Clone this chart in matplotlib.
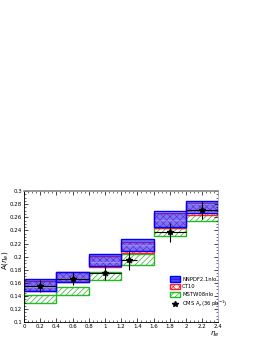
import matplotlib
matplotlib.use("Agg")
import matplotlib.pyplot as plt
from matplotlib.patches import Patch
from matplotlib.lines import Line2D
import numpy as np

# eta bins
bin_lo = [0.0, 0.4, 0.8, 1.2, 1.6, 2.0]
bin_w = 0.4

# theory bands (low, high)
nnpdf_lo = [0.148, 0.162, 0.186, 0.208, 0.246, 0.266]
nnpdf_hi = [0.166, 0.177, 0.204, 0.227, 0.270, 0.285]
ct10_lo = [0.147, 0.161, 0.185, 0.205, 0.243, 0.264]
ct10_hi = [0.163, 0.176, 0.201, 0.223, 0.266, 0.282]
mstw_lo = [0.129, 0.141, 0.165, 0.188, 0.231, 0.254]
mstw_hi = [0.141, 0.154, 0.176, 0.204, 0.244, 0.265]

# CMS measurement
cms_x = [0.2, 0.6, 1.0, 1.3, 1.8, 2.2]
cms_xerr = [0.2, 0.2, 0.2, 0.1, 0.2, 0.2]
cms_y = [0.155, 0.1665, 0.1756, 0.1944, 0.237, 0.271]
cms_yerr = [0.0095, 0.0095, 0.011, 0.014, 0.015, 0.014]

fig = plt.figure(figsize=(2.62, 3.39), dpi=100)
ax = fig.add_axes([0.0916, 0.0493, 0.742, 0.387])


def band(lo, hi, face, hatch, hcol, ecol, lw):
    lo = np.array(lo)
    hi = np.array(hi)
    ax.bar(bin_lo, hi - lo, width=bin_w, bottom=lo, align='edge',
           facecolor=face, hatch=hatch, edgecolor=hcol, linewidth=0)
    ax.bar(bin_lo, hi - lo, width=bin_w, bottom=lo, align='edge',
           fill=False, edgecolor=ecol, linewidth=lw)


plt.rcParams['hatch.linewidth'] = 0.5
band(mstw_lo, mstw_hi, 'white', '//////', '#33aa33', '#22bb22', 1.0)
band(ct10_lo, ct10_hi, 'white', 'xxxxx', '#ff4444', '#ff2222', 1.0)
band(nnpdf_lo, nnpdf_hi, (0.1, 0.1, 1.0, 0.6), '--', (0.75, 0.75, 1.0, 0.7),
     '#0000ff', 1.0)

ax.errorbar(cms_x, cms_y, xerr=cms_xerr, yerr=cms_yerr, fmt='*',
            color='black', markersize=4, elinewidth=0.8, capsize=0)

ax.set_xlim(0, 2.4)
ax.set_ylim(0.1, 0.3)
ax.set_xticks(np.arange(0, 2.41, 0.2))
ax.set_xticklabels(['0', '0.2', '0.4', '0.6', '0.8', '1', '1.2', '1.4',
                    '1.6', '1.8', '2', '2.2', '2.4'])
ax.set_yticks(np.arange(0.1, 0.301, 0.02))
ax.set_yticklabels(['0.1', '0.12', '0.14', '0.16', '0.18', '0.2', '0.22',
                    '0.24', '0.26', '0.28', '0.3'])
ax.minorticks_on()
ax.tick_params(axis='both', which='major', labelsize=4, length=3,
               width=0.5, direction='in', pad=1.5, top=True, right=True)
ax.tick_params(axis='both', which='minor', length=1.5, width=0.4,
               direction='in', top=True, right=True)
for s in ax.spines.values():
    s.set_linewidth(0.6)
ax.spines['top'].set_color('#888888')
ax.spines['top'].set_linewidth(1.2)
ax.spines['right'].set_color('#aaaadd')

ax.set_ylabel(r'A($\eta_e$)', fontsize=5, labelpad=1)
ax.yaxis.set_label_coords(-0.07, 0.47)
ax.set_xlabel(r'$\eta_e$', fontsize=5, labelpad=1)
ax.xaxis.set_label_coords(0.98, -0.06)

handles = [Patch(facecolor=(0.1, 0.1, 1.0, 0.8), edgecolor='#0000ff',
                 hatch='--'),
           Patch(facecolor='white', edgecolor='#ff2222', hatch='xxxxx'),
           Patch(facecolor='white', edgecolor='#22bb22', hatch='//////'),
           Line2D([], [], marker='*', color='black', linestyle='none',
                  markersize=4)]
labels = ['NNPDF2.1nlo', 'CT10', 'MSTW08nlo', r'CMS A$_e$(36 pb$^{-1}$)']
ax.legend(handles, labels, loc='upper left', bbox_to_anchor=(0.74, 0.37),
          frameon=False, fontsize=3.8, handlelength=1.8, handleheight=1.2,
          labelspacing=0.4, handletextpad=0.4, borderpad=0)

fig.savefig('out.png', dpi=100)
